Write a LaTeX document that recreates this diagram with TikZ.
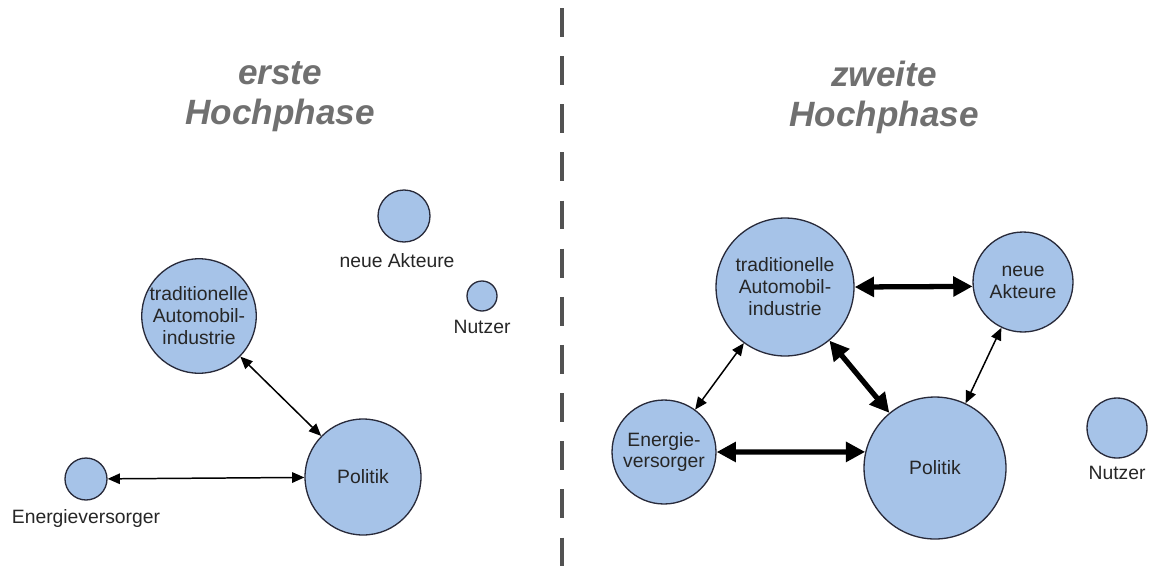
\documentclass[tikz,border=0pt]{standalone}
\usepackage{fontspec}
\setmainfont{Liberation Sans}
\usetikzlibrary{arrows.meta,positioning}

\definecolor{actorFill}{RGB}{166,195,232}
\definecolor{actorLine}{RGB}{40,42,58}
\definecolor{titleGray}{RGB}{112,112,112}

\begin{document}
\begin{tikzpicture}[x=0.02cm, y=-0.02cm]
    \tikzstyle{actor}=[circle, draw=actorLine, line width=0.75pt, fill=actorFill, inner sep=0pt, align=center, text=black!85, font=\fontsize{11}{12.5}\selectfont];
    \tikzstyle{caption}=[anchor=base, inner sep=0pt, text=black!85, font=\fontsize{11}{12.5}\selectfont];
    \tikzstyle{phase}=[align=center, inner sep=0pt, text=titleGray, font=\fontsize{20}{22.7}\selectfont\bfseries\itshape];
    \tikzstyle{weak link}=[{Triangle[length=7pt,width=6pt]}-{Triangle[length=7pt,width=6pt]}, line width=0.85pt];
    \tikzstyle{strong link}=[{Triangle[length=11pt,width=11pt]}-{Triangle[length=11pt,width=11pt]}, line width=3pt];

    \useasboundingbox (0,0) rectangle (1151,575);

    % divider between the two phases
    \draw[line width=1.9pt, draw=black!68, dash pattern=on 16.4pt off 11pt] (562,8) -- (562,575);

    \node[phase] (phaseOne) at (280,97) {erste\\Hochphase};
    \node[phase] (phaseTwo) at (884,97) {zweite\\Hochphase};

    % erste Hochphase
    \node[actor, minimum size=2.24cm] (tradOne) at (199,316) {traditionelle\\Automobil-\\industrie};
    \node[actor, minimum size=2.32cm] (polOne) at (363,477) {Politik};
    \node[actor, minimum size=0.84cm] (enerOne) at (86,479) {};
    \node[actor, minimum size=1.04cm] (neuOne) at (404,216) {};
    \node[actor, minimum size=0.6cm] (nutzOne) at (482,296) {};
    \node[caption] (enerOneText) at (86,523) {Energieversorger};
    \node[caption] (neuOneText) at (397,267) {neue Akteure};
    \node[caption] (nutzOneText) at (482,333) {Nutzer};

    \draw[weak link] (tradOne) -- (polOne);
    \draw[weak link] (enerOne) -- (polOne);

    % zweite Hochphase
    \node[actor, minimum size=2.76cm] (tradTwo) at (785,287) {traditionelle\\Automobil-\\industrie};
    \node[actor, minimum size=2.84cm] (polTwo) at (935,468) {Politik};
    \node[actor, minimum size=2.08cm] (enerTwo) at (664,452) {Energie-\\versorger};
    \node[actor, minimum size=2.0cm] (neuTwo) at (1023,282) {neue\\Akteure};
    \node[actor, minimum size=1.2cm] (nutzTwo) at (1117,428) {};
    \node[caption] (nutzTwoText) at (1117,479) {Nutzer};

    \draw[strong link] (tradTwo.east) -- (neuTwo.185);
    \draw[strong link] (tradTwo) -- (polTwo);
    \draw[strong link] (enerTwo.east) -- (polTwo.167);
    \draw[weak link] (tradTwo) -- (enerTwo);
    \draw[weak link] (neuTwo) -- (polTwo);
\end{tikzpicture}
\end{document}
